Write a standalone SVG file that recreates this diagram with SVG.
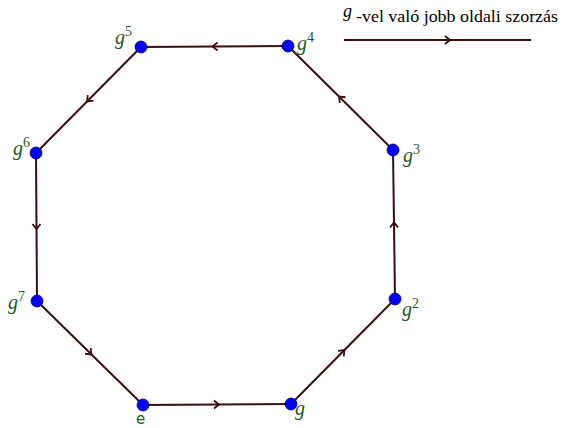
<svg xmlns="http://www.w3.org/2000/svg" width="564" height="428" viewBox="0 0 564 428">
<style>
.edge{fill:none;stroke:#3b0d0d;stroke-width:2;}
.node{fill:#0000ff;stroke:#00007a;stroke-width:0.8;}
.lbl{font-family:'Times New Roman','Liberation Serif','DejaVu Serif',serif;font-style:italic;font-size:20px;fill:#1f5a1f;}
.sup{font-size:14px;font-style:normal;}
.e{font-family:'DejaVu Sans','Liberation Sans',sans-serif;font-size:15px;fill:#1f5a1f;}
.leg{font-family:'Times New Roman','Liberation Serif','DejaVu Serif',serif;font-size:16px;fill:#000;}
</style>
<defs>
<marker id="chev" viewBox="-6 -6 12 12" markerWidth="12" markerHeight="12" refX="0" refY="0" orient="auto" markerUnits="userSpaceOnUse">
<path d="M-3,-4 L2,0 L-3,4" fill="none" stroke="#3b0d0d" stroke-width="1.8"/>
</marker>
</defs>
<g id="connectors">
<polyline class="edge" points="143,405 217,404.5 291,404" marker-mid="url(#chev)"/>
<polyline class="edge" points="291,404 343,351.5 395,299" marker-mid="url(#chev)"/>
<polyline class="edge" points="395,299 394,224.5 393,150" marker-mid="url(#chev)"/>
<polyline class="edge" points="393,150 340.5,98 288,46" marker-mid="url(#chev)"/>
<polyline class="edge" points="288,46 214.5,46.5 141,47" marker-mid="url(#chev)"/>
<polyline class="edge" points="141,47 88.5,100 36,153" marker-mid="url(#chev)"/>
<polyline class="edge" points="36,153 36.5,227 37,301" marker-mid="url(#chev)"/>
<polyline class="edge" points="37,301 90,353 143,405" marker-mid="url(#chev)"/>
</g>
<g id="legend">
<text class="leg" x="343" y="17" style="font-style:italic;font-size:18px">g</text>
<text class="leg" x="356" y="22" textLength="202" lengthAdjust="spacingAndGlyphs">-vel való jobb oldali szorzás</text>
<polyline class="edge" points="344,40 448,40 531,40" marker-mid="url(#chev)"/>
</g>
<g id="n-e"><circle class="node" cx="143" cy="405" r="6"/><text class="e" x="136" y="424">e</text></g>
<g id="n-g"><circle class="node" cx="291" cy="404" r="6"/><text class="lbl" x="295" y="415">g</text></g>
<g id="n-g2"><circle class="node" cx="395" cy="299" r="6"/><text class="lbl" x="402" y="316">g<tspan class="sup" dy="-8">2</tspan></text></g>
<g id="n-g3"><circle class="node" cx="393" cy="150" r="6"/><text class="lbl" x="403" y="162">g<tspan class="sup" dy="-8">3</tspan></text></g>
<g id="n-g4"><circle class="node" cx="288" cy="46" r="6"/><text class="lbl" x="297" y="50">g<tspan class="sup" dy="-8">4</tspan></text></g>
<g id="n-g5"><circle class="node" cx="141" cy="47" r="6"/><text class="lbl" x="115" y="44">g<tspan class="sup" dy="-8">5</tspan></text></g>
<g id="n-g6"><circle class="node" cx="36" cy="153" r="6"/><text class="lbl" x="13" y="155">g<tspan class="sup" dy="-8">6</tspan></text></g>
<g id="n-g7"><circle class="node" cx="37" cy="301" r="6"/><text class="lbl" x="8" y="309">g<tspan class="sup" dy="-8">7</tspan></text></g>
</svg>
